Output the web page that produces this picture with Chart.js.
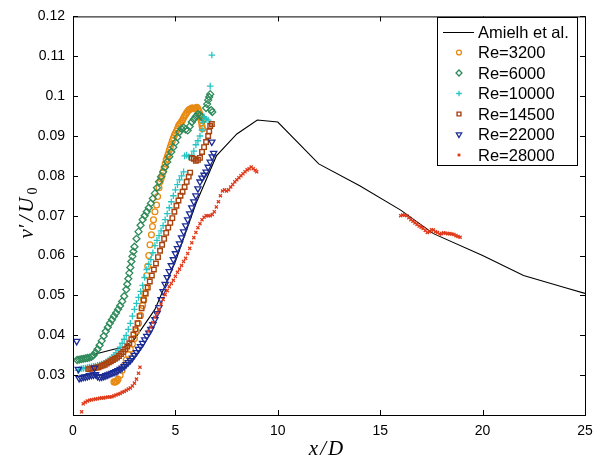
<!DOCTYPE html>
<html>
<head>
<meta charset="utf-8">
<script src="https://cdn.jsdelivr.net/npm/chart.js@4.4.0/dist/chart.umd.min.js"></script>
<style>
  html, body { margin: 0; padding: 0; background: #fff; }
  #wrap { width: 601px; height: 464px; }
</style>
</head>
<body>
<div id="wrap"><canvas id="chart" width="601" height="464"></canvas></div>
<script>
// axis ticks
const xTicks = [0, 5, 10, 15, 20, 25];
const yTicks = [0.02, 0.03, 0.04, 0.05, 0.06, 0.07, 0.08, 0.09, 0.1, 0.11, 0.12];

const seriesLabels = ['Amielh et al.', 'Re=3200', 'Re=6000', 'Re=10000', 'Re=14500', 'Re=22000', 'Re=28000'];

// [x/D, v'/U0]
const amielh = [[1.0,0.0352],[2.0,0.0365],[2.5,0.0370],[3.0,0.0390],[4.0,0.0465],[5.0,0.0585],[6.0,0.0730],
  [7.0,0.0850],[8.0,0.0905],[9.0,0.0940],[10.0,0.0935],[12.0,0.0830],[14.0,0.0775],[16.0,0.0714],
  [17.6,0.0655],[20.0,0.0600],[22.0,0.0550],[24.0,0.0520],[25.0,0.0505]];

const re3200 = [[2.0,.0283],[2.05,.0282],[2.1,.0284],[2.15,.0286],[2.2,.0290],[2.3,.0300],[2.4,.0312],[2.5,.0325],
  [2.6,.0338],[2.7,.0352],[2.8,.0365],[2.9,.0378],[3.0,.0392],[3.1,.0410],[3.2,.0430],[3.3,.0450],[3.4,.0475],
  [3.45,.0490],[3.5,.0505],[3.55,.0520],[3.6,.0550],[3.65,.0573],[3.7,.0600],[3.76,.0627],[3.83,.0652],
  [3.88,.0673],[3.93,.0690],[4.0,.0710],[4.08,.0727],[4.13,.0748],[4.2,.0770],[4.25,.0785],[4.3,.0793],
  [4.35,.0800],[4.4,.0810],[4.45,.0820],[4.5,.0830],[4.55,.0840],[4.6,.0848],[4.65,.0855],[4.7,.0864],
  [4.75,.0872],[4.8,.0880],[4.85,.0888],[4.9,.0895],[4.95,.0902],[5.0,.0907],[5.05,.0912],[5.1,.0918],
  [5.15,.0925],[5.2,.0929],[5.25,.0932],[5.3,.0936],[5.35,.0940],[5.4,.0945],[5.45,.0950],[5.5,.0954],
  [5.55,.0958],[5.6,.0962],[5.65,.0965],[5.7,.0967],[5.75,.0968],[5.8,.0970],[5.85,.0970],[5.9,.0969],
  [5.95,.0968],[6.0,.0970],[6.05,.0972],[6.1,.0968],[6.15,.0962],[6.2,.0955],[6.22,.0948],[6.25,.0940],
  [6.28,.0933],[6.3,.0925],[6.33,.0918]];

const re6000 = [[0.2,.0338],[0.3,.0339],[0.4,.0340],[0.5,.0341],[0.6,.0342],[0.7,.0343],[0.8,.0344],[0.9,.0346],
  [1.0,.0350],[1.1,.0357],[1.2,.0365],[1.3,.0375],[1.4,.0386],[1.5,.0398],[1.6,.0410],[1.7,.0420],[1.8,.0430],
  [1.9,.0439],[2.0,.0448],[2.1,.0456],[2.2,.0465],[2.3,.0474],[2.4,.0485],[2.5,.0498],[2.6,.0515],[2.65,.0528],
  [2.7,.0542],[2.75,.0556],[2.8,.0570],[2.85,.0585],[2.9,.0598],[2.95,.0610],[3.0,.0622],[3.1,.0642],[3.2,.0660],
  [3.3,.0676],[3.4,.0690],[3.5,.0700],[3.6,.0710],[3.7,.0720],[3.8,.0731],[3.9,.0743],[4.0,.0756],[4.1,.0770],
  [4.2,.0785],[4.3,.0798],[4.4,.0810],[4.5,.0822],[4.6,.0835],[4.7,.0848],[4.8,.0860],[4.9,.0872],[5.0,.0884],
  [5.1,.0897],[5.2,.0910],[5.3,.0918],[5.4,.0921],[5.5,.0916],[5.6,.0914],[5.7,.0924],[5.8,.0935],[5.9,.0942],
  [6.0,.0949],[6.1,.0955],[6.2,.0952],[6.3,.0947],[6.4,.0942],[6.5,.0970],[6.55,.0980],[6.6,.0990],[6.65,.0998],
  [6.7,.1005],[6.75,.0965],[6.8,.0960]];

const re10000 = [[0.25,.0312],[0.3,.0314],[0.4,.0316],[0.5,.0317],[0.6,.0318],[0.7,.0319],[0.8,.0320],[0.9,.0321],
  [1.0,.0322],[1.1,.0323],[1.2,.0325],[1.3,.0326],[1.4,.0328],[1.5,.0330],[1.6,.0333],[1.7,.0336],[1.8,.0340],
  [1.9,.0345],[2.0,.0350],[2.1,.0356],[2.2,.0362],[2.3,.0370],[2.4,.0380],[2.5,.0390],[2.6,.0400],[2.7,.0415],
  [2.8,.0430],[2.9,.0448],[3.0,.0465],[3.1,.0480],[3.2,.0495],[3.3,.0510],[3.4,.0525],[3.5,.0545],[3.6,.0565],
  [3.7,.0578],[3.8,.0590],[3.9,.0607],[4.0,.0625],[4.1,.0638],[4.2,.0650],[4.3,.0662],[4.4,.0675],[4.5,.0690],
  [4.6,.0705],[4.7,.0720],[4.8,.0735],[4.9,.0750],[5.0,.0765],[5.1,.0778],[5.2,.0790],[5.3,.0800],[5.4,.0810],
  [5.45,.0850],[5.55,.0852],[5.65,.0848],[5.8,.0852],[5.9,.0862],[6.0,.0878],[6.1,.0888],[6.2,.0900],[6.3,.0915],
  [6.35,.0935],[6.4,.0948],[6.5,.0942],[6.6,.0940],[6.7,.1025],[6.78,.1103]];

const re14500 = [[0.75,.0315],[0.85,.0316],[0.95,.0317],[1.05,.0318],[1.15,.0319],[1.25,.0320],[1.35,.0322],
  [1.45,.0324],[1.55,.0326],[1.65,.0329],[1.75,.0332],[1.85,.0335],[1.95,.0338],[2.05,.0341],[2.15,.0344],
  [2.25,.0348],[2.35,.0353],[2.45,.0358],[2.55,.0365],[2.65,.0372],[2.75,.0380],[2.85,.0390],[2.95,.0402],
  [3.05,.0415],[3.15,.0430],[3.25,.0448],[3.35,.0468],[3.45,.0488],[3.55,.0505],[3.65,.0520],[3.75,.0535],
  [3.85,.0550],[3.95,.0565],[4.05,.0580],[4.15,.0596],[4.25,.0612],[4.35,.0627],[4.45,.0642],[4.55,.0657],
  [4.65,.0670],[4.75,.0682],[4.85,.0694],[4.95,.0710],[5.05,.0725],[5.15,.0738],[5.25,.0750],[5.35,.0760],
  [5.45,.0772],[5.55,.0785],[5.65,.0798],[5.72,.0808],[5.8,.0845],[5.9,.0843],[6.0,.0838],[6.1,.0840],
  [6.2,.0845],[6.3,.0860],[6.4,.0872],[6.5,.0885],[6.6,.0900],[6.65,.0912],[6.7,.0925],[6.78,.0930]];

const re22000 = [[0.18,.0385],[0.26,.0315],[1.05,.0318],[0.3,.0292],[0.4,.0293],[0.5,.0295],[0.6,.0296],[0.7,.0297],
  [0.8,.0299],[0.9,.0300],[1.0,.0301],[1.1,.0302],[1.2,.0297],[1.3,.0295],[1.4,.0296],[1.5,.0297],[1.6,.0299],
  [1.7,.0301],[1.8,.0303],[1.9,.0305],[2.0,.0307],[2.1,.0309],[2.2,.0312],[2.3,.0315],[2.4,.0318],[2.5,.0322],
  [2.6,.0327],[2.7,.0332],[2.8,.0337],[2.9,.0343],[3.0,.0350],[3.1,.0357],[3.2,.0365],[3.3,.0372],[3.4,.0380],
  [3.5,.0389],[3.6,.0398],[3.7,.0406],[3.8,.0415],[3.9,.0427],[4.0,.0440],[4.1,.0455],[4.2,.0470],[4.3,.0490],
  [4.4,.0510],[4.5,.0528],[4.6,.0545],[4.7,.0560],[4.8,.0575],[4.9,.0590],[5.0,.0605],[5.1,.0618],[5.2,.0630],
  [5.3,.0645],[5.4,.0660],[5.5,.0675],[5.6,.0690],[5.7,.0705],[5.8,.0720],[5.9,.0735],[6.0,.0750],[6.1,.0768],
  [6.2,.0785],[6.3,.0795],[6.4,.0802],[6.5,.0810],[6.6,.0822],[6.7,.0835],[6.8,.0848],[6.87,.0857],[6.78,.0885]];

const re28000 = [[0.42,.0208],[0.5,.0228],[0.6,.0232],[0.7,.0235],[0.8,.0237],[0.9,.0238],[1.0,.0239],[1.1,.0240],
  [1.2,.0241],[1.3,.0242],[1.4,.0243],[1.5,.0243],[1.6,.0244],[1.7,.0245],[1.8,.0245],[1.9,.0246],[2.0,.0248],
  [2.1,.0250],[2.2,.0252],[2.3,.0254],[2.4,.0257],[2.5,.0259],[2.6,.0262],[2.7,.0265],[2.8,.0268],[2.9,.0273],
  [3.0,.0280],[3.1,.0290],[3.2,.0305],[3.27,.0320],
  [3.68,.0410],[3.8,.0420],[3.9,.0432],[4.0,.0445],[4.1,.0455],[4.2,.0465],[4.3,.0478],[4.4,.0490],[4.5,.0502],
  [4.6,.0512],[4.7,.0522],[4.8,.0530],[4.9,.0538],[5.0,.0548],[5.1,.0558],[5.2,.0566],[5.3,.0575],[5.4,.0585],
  [5.5,.0593],[5.6,.0605],[5.7,.0618],[5.8,.0632],[5.9,.0645],[6.0,.0658],[6.1,.0670],[6.2,.0680],[6.3,.0690],
  [6.4,.0696],[6.5,.0700],[6.6,.0700],[6.7,.0700],[6.8,.0703],[6.9,.0710],[7.0,.0722],[7.1,.0735],[7.2,.0750],
  [7.3,.0762],[7.4,.0765],[7.5,.0762],[7.6,.0765],[7.7,.0772],[7.8,.0778],[7.9,.0785],[8.0,.0790],[8.1,.0795],
  [8.2,.0800],[8.3,.0805],[8.4,.0810],[8.5,.0815],[8.6,.0818],[8.7,.0822],[8.8,.0818],[8.9,.0814],[8.97,.0810],
  [16.0,.0700],[16.1,.0702],[16.2,.0701],[16.3,.0700],[16.4,.0695],[16.5,.0690],[16.6,.0686],[16.7,.0682],
  [16.8,.0678],[16.9,.0674],[17.0,.0671],[17.1,.0668],[17.2,.0663],[17.3,.0658],[17.4,.0660],[17.5,.0665],
  [17.6,.0664],[17.7,.0660],[17.8,.0658],[17.9,.0654],[18.0,.0655],[18.1,.0657],[18.2,.0656],[18.3,.0655],
  [18.4,.0655],[18.5,.0654],[18.6,.0653],[18.7,.0650],[18.8,.0648],[18.9,.0646]];

const toPts = arr => arr.map(p => ({ x: p[0], y: p[1] }));

function markerSet(label, data, color, style, radius, extra) {
  return Object.assign({
    type: 'scatter', label: label, data: toPts(data), showLine: false,
    pointStyle: style, pointRadius: radius, pointBorderWidth: 1.3,
    pointBorderColor: color, pointBackgroundColor: 'rgba(0,0,0,0)', borderColor: color
  }, extra || {});
}

const datasets = [
  { type: 'line', label: seriesLabels[0], data: toPts(amielh), borderColor: '#000', borderWidth: 1.1,
    pointRadius: 0, fill: false, tension: 0, order: 6 },
  markerSet(seriesLabels[1], re3200, '#e88a12', 'circle', 2.9, { order: 5 }),
  markerSet(seriesLabels[2], re6000, '#2f8a5a', 'rectRot', 3.5, { order: 4 }),
  markerSet(seriesLabels[3], re10000, '#27c4c4', 'cross', 3.3, { order: 3 }),
  markerSet(seriesLabels[4], re14500, '#a8420f', 'rect', 3.2, { order: 2, pointBorderWidth: 1.4 }),
  markerSet(seriesLabels[5], re22000, '#1c2c96', 'triangle', 3.6, { order: 1, pointRotation: 180 }),
  markerSet(seriesLabels[6], re28000, '#e0391a', 'crossRot', 2.2, { order: 0 })
];

// draw a string glyph by glyph with extra spacing (LaTeX-like math title)
function spaced(ctx, parts, gap) {
  let w = 0;
  parts.forEach(p => { ctx.font = p.font; p.w = ctx.measureText(p.t).width; w += p.w; });
  w += gap * (parts.length - 1);
  let cx = -w / 2;
  ctx.textAlign = 'left';
  parts.forEach(p => { ctx.font = p.font; ctx.fillText(p.t, cx, p.dy || 0); cx += p.w + gap; });
}

// MATLAB-like box, inward ticks, legend and axis titles
const frame = {
  id: 'frame',
  afterDatasetsDraw(chart) {
    const ctx = chart.ctx, a = chart.chartArea, x = chart.scales.x, y = chart.scales.y;
    ctx.save();
    ctx.strokeStyle = '#000';
    ctx.lineWidth = 1;
    ctx.beginPath();
    xTicks.forEach(v => {
      const px = Math.round(x.getPixelForValue(v)) + 0.5;
      ctx.moveTo(px, a.bottom); ctx.lineTo(px, a.bottom - 5);
      ctx.moveTo(px, a.top); ctx.lineTo(px, a.top + 5);
    });
    yTicks.forEach(v => {
      const py = Math.round(y.getPixelForValue(v)) + 0.5;
      ctx.moveTo(a.left, py); ctx.lineTo(a.left + 5, py);
      ctx.moveTo(a.right, py); ctx.lineTo(a.right - 5, py);
    });
    ctx.stroke();
    ctx.strokeRect(a.left + 0.5, a.top + 0.5, a.right - a.left, a.bottom - a.top);

    // legend
    const lx = 437, ly = 17, lw = 140, lh = 148;
    ctx.fillStyle = '#fff';
    ctx.fillRect(lx, ly, lw, lh);
    ctx.strokeRect(lx + 0.5, ly + 0.5, lw, lh);
    ctx.font = '16.5px "Liberation Sans", Arial, sans-serif';
    ctx.textBaseline = 'middle';
    ctx.textAlign = 'left';
    chart.data.datasets.forEach((ds, i) => {
      const ry = ly + 15 + i * 20.5;
      if (i === 0) {
        ctx.strokeStyle = '#000';
        ctx.beginPath(); ctx.moveTo(443, ry + 0.5); ctx.lineTo(474, ry + 0.5); ctx.stroke();
      } else {
        ctx.strokeStyle = ds.pointBorderColor;
        ctx.fillStyle = 'rgba(0,0,0,0)';
        ctx.lineWidth = ds.pointBorderWidth;
        Chart.helpers.drawPoint(ctx, {
          pointStyle: ds.pointStyle, radius: ds.pointRadius * 0.85,
          rotation: ds.pointRotation || 0, borderWidth: ds.pointBorderWidth
        }, 459, ry);
        ctx.lineWidth = 1;
      }
      ctx.fillStyle = '#000';
      ctx.fillText(ds.label, 478, ry + 1);
    });

    // axis titles
    const it = 'italic 21px "Liberation Serif", "DejaVu Serif", serif';
    ctx.fillStyle = '#000';
    ctx.textBaseline = 'alphabetic';
    ctx.save();
    ctx.translate((a.left + a.right) / 2 - 3, 455);
    spaced(ctx, [{ t: 'x', font: it }, { t: '/', font: it }, { t: 'D', font: it }], 2);
    ctx.restore();

    ctx.save();
    ctx.translate(33, 213);
    ctx.rotate(-Math.PI / 2);
    spaced(ctx, [{ t: 'v\u2032', font: it }, { t: '/', font: it }, { t: 'U', font: it },
      { t: '0', font: '14px "Liberation Serif", "DejaVu Serif", serif', dy: 4 }], 3);
    ctx.restore();

    ctx.restore();
  }
};

const tickFont = { family: '"Liberation Sans", Arial, sans-serif', size: 14 };

new Chart(document.getElementById('chart'), {
  data: { datasets: datasets },
  options: {
    responsive: false,
    animation: false,
    devicePixelRatio: 1,
    layout: { padding: { top: 13, right: 16, left: 0, bottom: 0 } },
    plugins: { legend: { display: false }, tooltip: { enabled: false } },
    scales: {
      x: {
        type: 'linear', min: 0, max: 25,
        afterBuildTicks: s => { s.ticks = xTicks.map(v => ({ value: v })); },
        afterFit: s => { s.height = 49; },
        grid: { display: false, drawTicks: false },
        border: { display: false },
        ticks: { color: '#000', font: tickFont, padding: 8, maxRotation: 0 }
      },
      y: {
        type: 'linear', min: 0.02, max: 0.12,
        afterBuildTicks: s => { s.ticks = yTicks.map(v => ({ value: v })); },
        afterFit: s => { s.width = 73; },
        grid: { display: false, drawTicks: false },
        border: { display: false },
        ticks: {
          color: '#000', font: tickFont, padding: 8,
          callback: v => (Math.abs(v - 0.02) < 1e-9 ? '' : String(Number(v.toFixed(2))))
        }
      }
    }
  },
  plugins: [frame]
});
</script>
</body>
</html>
